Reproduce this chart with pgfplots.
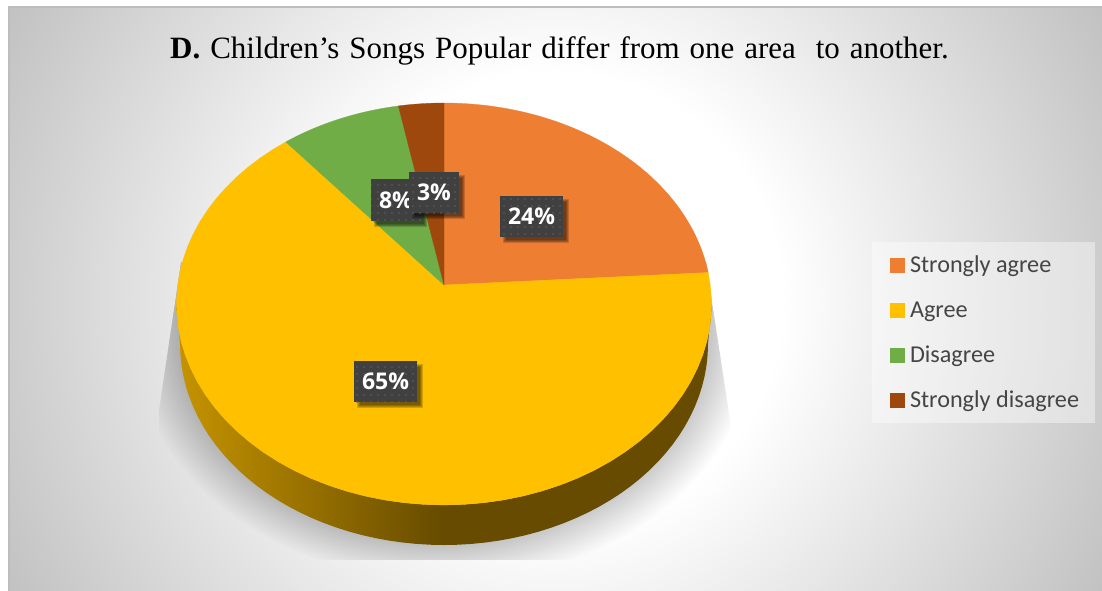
\documentclass[border=0pt]{standalone}
\usepackage{fontspec}
\usepackage{pgfplots}
\usepackage{pgfplotstable}
\pgfplotsset{compat=1.18}
\usetikzlibrary{patterns.meta}
\setmainfont{Liberation Serif}
\newfontfamily\legendfont{Carlito}
\newfontfamily\labelfont{Open Sans}

\definecolor{sliceA}{HTML}{EE7E32}
\definecolor{sliceB}{HTML}{FFC000}
\definecolor{sliceC}{HTML}{70AD47}
\definecolor{sliceD}{HTML}{9E480E}
\definecolor{labelbox}{HTML}{404040}
\definecolor{labeldot}{HTML}{606060}
\definecolor{legendtext}{HTML}{454545}
\definecolor{rimgrey}{RGB}{192,192,192}
\definecolor{wallL}{RGB}{198,148,0}
\definecolor{wallR}{RGB}{102,75,0}

% backdrop: white core falling off to grey towards the corners
\pgfdeclareradialshading{backdrop}{\pgfpointorigin}{%
  color(0bp)=(white); color(9bp)=(white); color(25bp)=(rimgrey); color(50bp)=(rimgrey)}
\pgfdeclarehorizontalshading{piewall}{100bp}{%
  color(0bp)=(wallL); color(25bp)=(wallL); color(50bp)=(wallR); color(100bp)=(wallR)}

\pgfplotstableread{
share
24
65
8
3
}\pieshares

% outline of one slice of the tilted disc, from angle #1 to angle #2 (degrees, clockwise from the top)
\newcommand\slice[3]{%
  \gdef\pts{(444,285)}%
  \foreach \i in {0,...,60}{%
    \pgfmathsetmacro\tt{#1+(#2-#1)*\i/60}%
    \pgfmathsetmacro\dd{1+0.0945*cos(\tt)}%
    \pgfmathsetmacro\px{444+266.3*sin(\tt)/\dd}%
    \pgfmathsetmacro\py{285-199.2*cos(\tt)/\dd}%
    \xdef\pts{\pts (\px,\py)}%
  }%
  \xdef\pts{\pts (444,285)}%
  \edef\cmd{\noexpand\addplot[fill=#3,draw=#3,line width=0.3pt] coordinates {\pts};}%
  \cmd
}

% front wall of the disc: lower half of the top rim, back along the bottom rim
\newcommand\wall{%
  \gdef\pts{}%
  \foreach \i in {0,...,60}{%
    \pgfmathsetmacro\tt{90+3*\i}%
    \pgfmathsetmacro\px{444+267.5*sin(\tt)}%
    \pgfmathsetmacro\py{304-201*cos(\tt)}%
    \xdef\pts{\pts (\px,\py)}%
  }%
  \foreach \i in {0,...,60}{%
    \pgfmathsetmacro\tt{270-3*\i}%
    \pgfmathsetmacro\px{444+264*sin(\tt)}%
    \pgfmathsetmacro\py{344-201*cos(\tt)}%
    \xdef\pts{\pts (\px,\py)}%
  }%
  \edef\cmd{\noexpand\addplot[forget plot,shade,shading=piewall,draw=none] coordinates {\pts};}%
  \cmd
}

% value box with a dotted ground and a soft drop shadow
\newcommand\datalabel[5]{%
  \pgfplotsinvokeforeach{0,1,2,3}{%
    \fill[black,fill opacity=0.17] (axis cs:{#1+3+##1},{#2+3+##1}) rectangle (axis cs:{#3+6-##1},{#4+6-##1});
  }%
  \fill[labelbox] (axis cs:#1,#2) rectangle (axis cs:#3,#4);
  \fill[pattern={Dots[distance=7pt,radius=0.9pt]},pattern color=labeldot] (axis cs:#1,#2) rectangle (axis cs:#3,#4);
  \node[text=white,inner sep=0pt,font=\labelfont\bfseries\fontsize{23}{25}\selectfont]
    at (axis cs:{(#1+#3)/2},{(#2+#4)/2}) {#5};
}

\begin{document}
\begin{tikzpicture}
\pgfplotstablegetelem{0}{share}\of\pieshares \xdef\sA{\pgfplotsretval}
\pgfplotstablegetelem{1}{share}\of\pieshares \xdef\sB{\pgfplotsretval}
\pgfplotstablegetelem{2}{share}\of\pieshares \xdef\sC{\pgfplotsretval}
\pgfplotstablegetelem{3}{share}\of\pieshares \xdef\sD{\pgfplotsretval}
\pgfmathsetmacro\endA{3.6*\sA}
\pgfmathsetmacro\endB{\endA+3.6*\sB}
\pgfmathsetmacro\endC{\endB+3.6*\sC}
\pgfmathsetmacro\endD{\endC+3.6*\sD}
\begin{axis}[
  scale only axis, width=1102pt, height=591pt,
  xmin=0, xmax=1102, ymin=0, ymax=591, y dir=reverse,
  hide axis,
  legend image code/.code={\fill[#1,fill opacity=1] (0pt,0.5pt) rectangle (14pt,14.5pt);},
  legend style={
    at={(axis cs:889.5,244.5)}, anchor=north west, draw=none, fill=none,
    inner xsep=0pt, inner ysep=8pt, row sep=20.4pt, column sep=0pt,
    font=\legendfont\fontsize{24.2}{26}\selectfont,
    text=legendtext,
    nodes={inner ysep=0pt, inner xsep=6pt, text height=20pt, text depth=4.6pt, anchor=base west},
  },
  legend cell align=left,
]
  % page ground, backdrop and frame
  \fill[white] (axis cs:0,0) rectangle (axis cs:1102,591);
  \begin{scope}
    \clip (axis cs:9,7) rectangle (axis cs:1102,591);
    \shade[shading=backdrop] (axis cs:555,300) circle [radius=630pt];
  \end{scope}
  \draw[color=black!26,line width=1.2pt] (axis cs:9,591) -- (axis cs:9,7) -- (axis cs:1102,7);

  % soft shadow under the disc
  \begin{scope}
    \clip (axis cs:181,262) -- (axis cs:706,262) -- (axis cs:730,420) -- (axis cs:730,560)
       -- (axis cs:159,560) -- (axis cs:159,410) -- cycle;
    \pgfplotsinvokeforeach{1,...,18}{%
      \fill[black,fill opacity=0.011] (axis cs:444,{324+0.9*#1})
        ellipse [x radius={(267+2.3*#1)*1pt}, y radius={(221+1.1*#1)*1pt}];
    }
  \end{scope}

  \wall
  \slice{0}{\endA}{sliceA}
  \slice{\endA}{\endB}{sliceB}
  \slice{\endB}{\endC}{sliceC}
  \slice{\endC}{\endD}{sliceD}

  % value boxes
  \datalabel{500}{196}{563}{237}{\sA\%}
  \datalabel{354}{361}{417}{402}{\sB\%}
  \datalabel{371}{179}{421}{221}{\sC\%}
  \datalabel{409}{172}{459}{213}{\sD\%}

  % legend panel and title
  \fill[white,fill opacity=0.4] (axis cs:872,242) rectangle (axis cs:1095,423);
  \node[anchor=base,inner sep=0pt,font=\fontsize{31}{33}\selectfont,text=black]
    at (axis cs:559.5,59) {\spaceskip=9.9pt \textbf{D.} Children’s Songs Popular differ from one area \ to another.};
  \legend{Strongly agree,Agree,Disagree,Strongly disagree}
\end{axis}
\end{tikzpicture}
\end{document}
